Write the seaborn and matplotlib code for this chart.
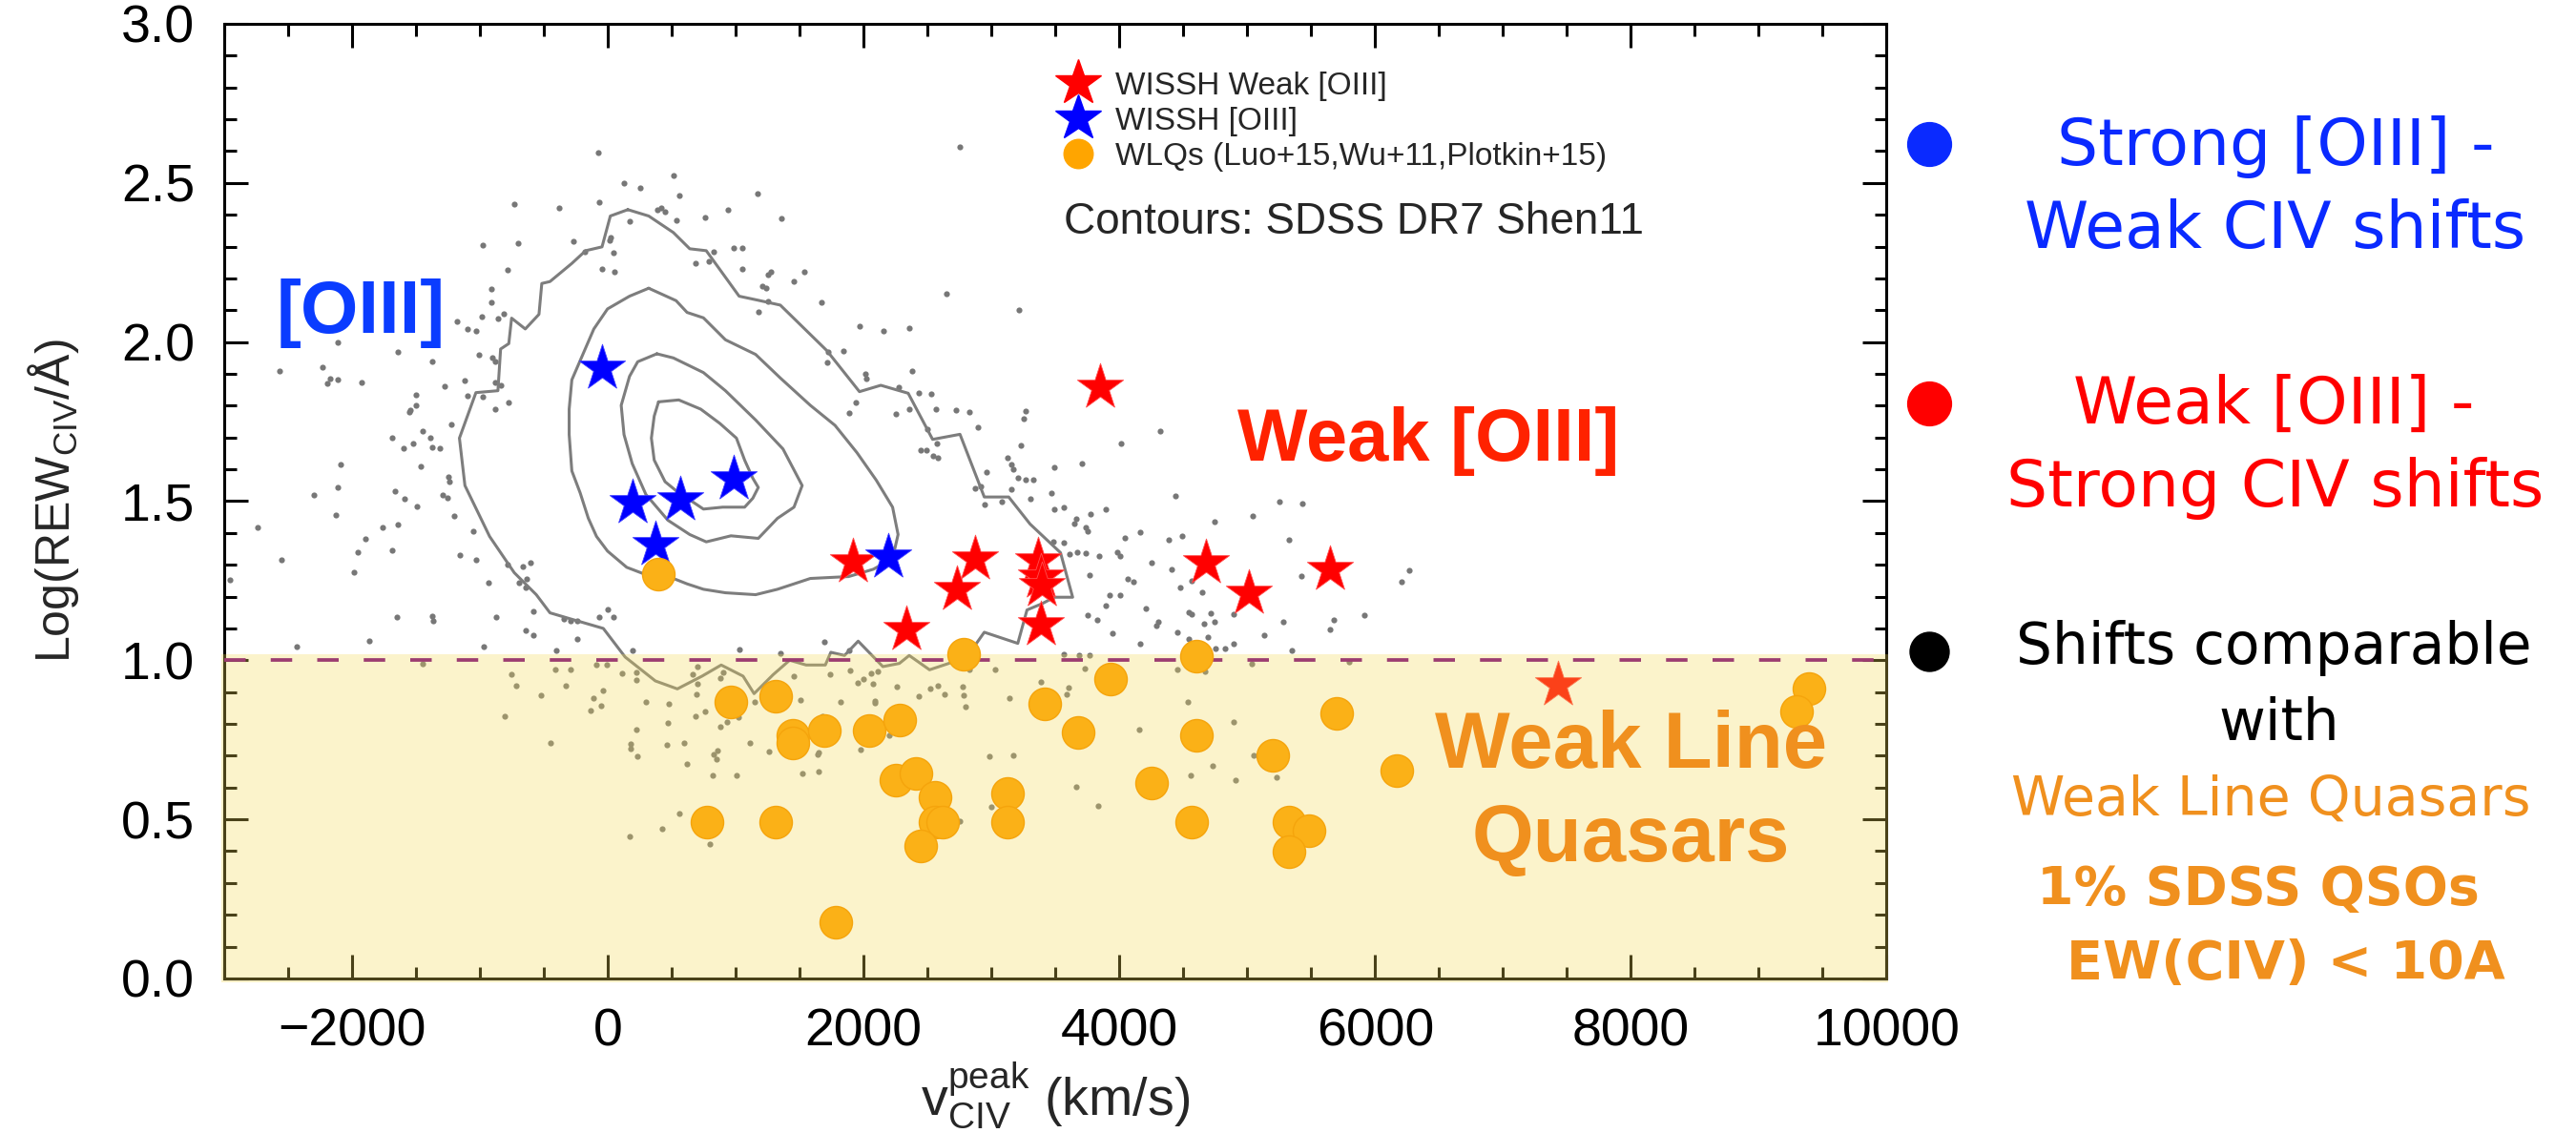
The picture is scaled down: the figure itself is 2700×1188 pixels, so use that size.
import matplotlib
matplotlib.use("Agg")
import matplotlib.pyplot as plt
from matplotlib.lines import Line2D
from matplotlib.patches import Rectangle
from matplotlib.ticker import MultipleLocator, FormatStrFormatter
import seaborn as sns

# ---------------- data ----------------
# WISSH quasars with weak [OIII]
red_x = [1915, 2873, 2730, 2335, 3364, 3390, 3397, 3383, 3849, 4678, 5016, 5650, 7431]
red_y = [1.309, 1.320, 1.223, 1.098, 1.313, 1.263, 1.235, 1.113, 1.859, 1.306, 1.210, 1.286, 0.923]

# WISSH quasars with [OIII]
blue_x = [-45, 191, 564, 984, 376, 2193]
blue_y = [1.919, 1.494, 1.503, 1.570, 1.363, 1.324]

# Weak line quasars (Luo+15, Wu+11, Plotkin+15)
wlq_x = [397, 962, 1312, 1444, 1444, 1692, 2043, 2286, 2786, 3420, 3680, 2256, 2410,
         2556, 2560, 2615, 2449, 3128, 3128, 774, 1312, 1782,
         4600, 3932, 4600, 4253, 4569, 5201, 5702, 5323, 5481, 5323, 6167, 9395, 9296]
wlq_y = [1.271, 0.870, 0.887, 0.765, 0.740, 0.778, 0.778, 0.812, 1.018, 0.863, 0.772, 0.624, 0.643,
         0.570, 0.492, 0.490, 0.415, 0.580, 0.492, 0.492, 0.492, 0.176,
         1.013, 0.940, 0.764, 0.613, 0.492, 0.700, 0.833, 0.492, 0.463, 0.398, 0.654, 0.910, 0.840]

# SDSS DR7 (Shen+11) density contours, outermost to innermost
c1_x = [157, 320, 513, 641, 770, 1027, 1156, 1349, 1713, 1968, 2135, 2349, 2540, 2754, 2944, 3135,
        3302, 3540, 3635, 3492, 3397, 3278, 3206, 2944, 2816, 2666, 2516, 2357, 2280, 2151, 1958,
        1851, 1744, 1701, 1551, 1422, 1294, 1144, 1058, 887, 737, 544, 372, 136, -35, -292, -452,
        -559, -731, -924, -1117, -1160, -1031, -859, -838, -774, -752, -645, -538, -516, -452, -281,
        -173, -45, 20]
c1_y = [2.416, 2.396, 2.344, 2.293, 2.287, 2.144, 2.133, 2.116, 1.973, 1.844, 1.864, 1.839, 1.694,
        1.710, 1.513, 1.513, 1.428, 1.338, 1.198, 1.198, 1.178, 1.158, 1.053, 1.088, 1.015, 0.990,
        0.970, 1.015, 0.990, 0.980, 1.060, 1.015, 1.025, 0.985, 0.985, 1.000, 0.955, 0.895, 0.950,
        0.985, 0.950, 0.910, 0.935, 1.010, 1.100, 1.130, 1.149, 1.206, 1.275, 1.389, 1.549, 1.698,
        1.841, 1.847, 1.978, 1.995, 2.075, 2.041, 2.087, 2.184, 2.190, 2.247, 2.287, 2.299, 2.396]

c2_x = [320, 534, 620, 748, 920, 1156, 1349, 1584, 1777, 1949, 2099, 2227, 2270, 2227, 2077, 1884,
        1584, 1456, 1327, 1156, 920, 748, 620, 513, 298, 148, -2, -88, -152, -216, -281, -302, -302,
        -281, -195, -109, -2, 170]
c2_y = [2.169, 2.130, 2.093, 2.076, 2.007, 1.961, 1.887, 1.801, 1.738, 1.652, 1.566, 1.481, 1.395,
        1.320, 1.286, 1.263, 1.257, 1.240, 1.223, 1.206, 1.212, 1.223, 1.240, 1.257, 1.269, 1.292,
        1.343, 1.389, 1.446, 1.526, 1.595, 1.709, 1.789, 1.881, 1.961, 2.041, 2.104, 2.144]

c3_x = [384, 513, 748, 920, 1156, 1370, 1520, 1456, 1327, 1177, 963, 770, 641, 470, 298, 191, 127,
        105, 170, 234]
c3_y = [1.963, 1.950, 1.904, 1.847, 1.755, 1.664, 1.549, 1.481, 1.446, 1.383, 1.391, 1.372, 1.395,
        1.440, 1.521, 1.618, 1.709, 1.801, 1.892, 1.938]

c4_x = [397, 555, 727, 877, 1006, 1070, 1134, 1177, 1134, 1070, 898, 748, 663, 555, 448, 363, 341, 363]
c4_y = [1.812, 1.818, 1.789, 1.744, 1.698, 1.629, 1.572, 1.543, 1.509, 1.481, 1.481, 1.475, 1.498,
        1.526, 1.561, 1.629, 1.698, 1.767]

# SDSS DR7 objects outside the contours
sdss_x = [-75, 2755, 513, 127, 255, 556, 1168, -66, -731, -379, 390, 420, 450, 941, 534, 761, 1357,
          170, -268, -182, 15, 25, -701, -975, 41, 984, 1048, 826, 684, 791, -786, -45, 53, 1276,
          1250, 1533, 1048, 1456, 1211, 1241, -911, 2647, 1254, 1670, -911, 3213, -988, -859, -816,
          1177, -1181, -1095, -1031, 1970, 2155, 2356, -1009, -902, -881, -2111, 1726, 1841, 1713,
          -1374, -1640, -2566, -2231, -2170, -2110, -2190, -1922, -1117, -881, -838, -1275, -1502,
          -1095, -975, -1502, -881, -774, 1940, -1554, -1545, 1884, -1224, -1447, -1387, -1687,
          -1310, -1374, -1597, -1524, -2090, -1459, -1245, -1237, -2111, -2295, -1665, -1288, -1254,
          -1588, -1494, -1202, -2124, -2737, -1760, -1644, -1897, -1052, -1952, -1687, -1160, -1031,
          -2548, -786, -666, -602, -1982, -932, -696, -645, -632, -2951, -581, -345, -289, -238, -66,
          -2, 41, -1652, -1374, -1365, -645, -581, -872, -2433, -1867, -967, -401, -238, 1349, 1691,
          1884, 191, 1027,
          # below the dashed line, left part
          -1450, -408, -292, -87, -5, -755, -713, -327, -524, -807, -451, 111, 226, 226, -35, -112,
          -56, -138, 295, 480, 471, 222, 180, 180, 231, 462, 600, 616, 171, 428, 557, 801, 822, 1006,
          830, 848, 855, 1114, 1260, 760, 686, 900, 693, 700, 660, 700, 880, 900, 1020, 935, 880,
          1150, 1223, 1457, 1520, 1645, 1640, 1645, 1508, 1680, 1740, 1821, 1894, 2000, 1955, 2060,
          2085, 2085, 2075, 2110, 1980, 2263, 2203, 2430, 2524, 2580, 2636, 2777, 2785, 2795, 2830,
          3030, 3142, 2987, 3172, 2996, 2751, 3385,
          # below the dashed line, right part
          5038, 5797, 3729, 4451, 4668, 3603, 3585, 4533, 4894, 4158, 5047, 4731, 4555, 5233, 4912,
          3661, 3837,
          # above the dashed line, right part
          2382, 2016, 2020, 2435, 2530, 2278, 2720, 2825, 3264, 3254, 2254, 2358, 4316, 2563, 2897,
          2501, 2573, 2444, 2492, 2540, 2578, 4016, 3230, 3125, 3159, 3168, 3492, 3706, 2959, 3206,
          3264, 3325, 2873, 2920, 3159, 3468, 3302, 2944, 3078, 4435, 5254, 5431, 3492, 3564, 3897,
          3778, 5040, 3660, 3650, 3740, 3755, 4745, 4040, 4159, 4492, 4388, 3483, 3568, 5326, 3611,
          3673, 3740, 3840, 3987, 4007, 4254, 4411, 6264, 5421, 3768, 6207, 4064, 4111, 3921, 4007,
          4478, 4564, 4645, 3897, 4207, 4540, 4564, 4716, 4897, 3754, 3826, 4302, 4292, 4659, 4745,
          4454, 5278, 5674, 5650, 5912, 3945, 5135, 4692, 4159, 4540, 4755, 4830, 4897, 5350, 3564,
          3683, 3768]
sdss_y = [2.596, 2.613, 2.524, 2.499, 2.483, 2.459, 2.467, 2.439, 2.433, 2.421, 2.415, 2.420, 2.410,
          2.415, 2.382, 2.390, 2.388, 2.380, 2.316, 2.285, 2.320, 2.330, 2.310, 2.304, 2.280, 2.296,
          2.296, 2.285, 2.247, 2.253, 2.227, 2.230, 2.220, 2.220, 2.212, 2.222, 2.230, 2.190, 2.175,
          2.170, 2.167, 2.152, 2.127, 2.124, 2.124, 2.100, 2.080, 2.075, 2.090, 2.096, 2.064, 2.040,
          2.035, 2.050, 2.035, 2.045, 1.960, 1.950, 1.940, 2.000, 1.970, 1.972, 1.935, 1.940, 1.970,
          1.908, 1.920, 1.885, 1.883, 1.870, 1.873, 1.880, 1.872, 1.864, 1.860, 1.835, 1.830, 1.828,
          1.800, 1.790, 1.810, 1.810, 1.780, 1.785, 1.776, 1.741, 1.720, 1.700, 1.698, 1.666, 1.668,
          1.665, 1.680, 1.614, 1.610, 1.575, 1.560, 1.543, 1.520, 1.530, 1.520, 1.510, 1.506, 1.484,
          1.452, 1.455, 1.418, 1.418, 1.425, 1.380, 1.406, 1.340, 1.347, 1.330, 1.316, 1.315, 1.300,
          1.295, 1.307, 1.277, 1.243, 1.243, 1.230, 1.256, 1.254, 1.154, 1.130, 1.125, 1.123, 1.137,
          1.160, 1.135, 1.137, 1.140, 1.124, 1.095, 1.080, 1.135, 1.042, 1.060, 1.042, 1.030, 1.066,
          1.023, 1.057, 1.030, 1.030, 1.035,
          0.990, 0.972, 0.972, 0.987, 0.987, 0.957, 0.920, 0.920, 0.889, 0.825, 0.740, 0.960, 0.962,
          0.938, 0.905, 0.880, 0.858, 0.842, 0.868, 0.862, 0.802, 0.782, 0.738, 0.723, 0.699, 0.734,
          0.740, 0.673, 0.447, 0.470, 0.518, 0.423, 0.639, 0.638, 0.705, 0.690, 0.717, 0.740, 0.713,
          0.838, 0.825, 0.840, 0.892, 0.925, 0.955, 0.980, 0.945, 0.962, 0.820, 0.805, 0.792, 0.868,
          0.868, 0.950, 0.643, 0.650, 0.705, 0.710, 0.875, 0.825, 0.955, 0.868, 0.968, 0.940, 0.930,
          0.960, 0.872, 0.865, 0.925, 0.965, 0.720, 0.917, 0.765, 0.887, 0.910, 0.920, 0.892, 0.917,
          0.890, 0.855, 0.970, 0.970, 0.882, 0.698, 0.702, 0.540, 0.493, 0.932,
          0.990, 0.995, 0.975, 0.970, 0.965, 0.915, 0.892, 0.868, 0.805, 0.783, 0.700, 0.668, 0.638,
          0.632, 0.622, 0.603, 0.543,
          1.910, 1.900, 1.885, 1.840, 1.836, 1.857, 1.785, 1.779, 1.783, 1.758, 1.775, 1.788, 1.720,
          1.790, 1.733, 1.725, 1.680, 1.660, 1.660, 1.643, 1.636, 1.682, 1.674, 1.636, 1.614, 1.600,
          1.607, 1.617, 1.592, 1.574, 1.567, 1.567, 1.539, 1.546, 1.537, 1.524, 1.506, 1.490, 1.498,
          1.515, 1.499, 1.491, 1.475, 1.480, 1.473, 1.458, 1.454, 1.444, 1.429, 1.417, 1.404, 1.434,
          1.384, 1.401, 1.391, 1.378, 1.371, 1.368, 1.378, 1.334, 1.339, 1.337, 1.329, 1.339, 1.329,
          1.306, 1.286, 1.283, 1.266, 1.268, 1.248, 1.257, 1.246, 1.206, 1.206, 1.229, 1.249, 1.214,
          1.171, 1.162, 1.151, 1.145, 1.148, 1.145, 1.141, 1.128, 1.120, 1.108, 1.116, 1.121, 1.088,
          1.121, 1.128, 1.098, 1.141, 1.086, 1.078, 1.073, 1.053, 1.066, 1.038, 1.038, 1.053, 1.030,
          1.018, 1.016, 1.016]

ew_limit = 1.0
x_ticks_major = [-2000, 0, 2000, 4000, 6000, 8000, 10000]

# ---------------- style ----------------
sns.set_theme(style="white")
plt.rcParams['font.family'] = ['Liberation Sans', 'DejaVu Sans']
plt.rcParams['mathtext.fontset'] = 'custom'
plt.rcParams['mathtext.rm'] = 'Liberation Sans'
plt.rcParams['mathtext.it'] = 'Liberation Sans:italic'
plt.rcParams['mathtext.bf'] = 'Liberation Sans:bold'

fig = plt.figure(figsize=(27, 11.88), dpi=100)
ax = fig.add_axes([0.0870, 0.1364, 0.6454, 0.8426])
ax.set_facecolor('white')

# scattered SDSS objects
sns.scatterplot(x=sdss_x, y=sdss_y, color='#777777', s=20, linewidth=0, ax=ax, zorder=1)

# density contours
for cx, cy in [(c1_x, c1_y), (c2_x, c2_y), (c3_x, c3_y), (c4_x, c4_y)]:
    ax.plot(list(cx) + [cx[0]], list(cy) + [cy[0]], color='#7d7d7d', lw=2.2, zorder=1.5)

# weak-[OIII] WISSH sources
sns.scatterplot(x=red_x, y=red_y, marker='*', s=1340, color='#ff0000', edgecolor='#ff5050',
                linewidth=0.6, ax=ax, zorder=2)

# weak-line region shading (semi-transparent, above frame)
ax.add_patch(Rectangle((-3025, -0.012), 13040, 1.032, transform=ax.transData,
                       facecolor=(242 / 255, 216 / 255, 85 / 255), alpha=0.306,
                       edgecolor='none', zorder=2.6, clip_on=False))
ax.axhline(ew_limit, color='#9c3c70', lw=2.7, dashes=(6, 7), zorder=2.7)

# [OIII] WISSH sources
sns.scatterplot(x=blue_x, y=blue_y, marker='*', s=1340, color='#0000ff', edgecolor='#4040ff',
                linewidth=0.6, ax=ax, zorder=3)

# weak line quasars
sns.scatterplot(x=wlq_x, y=wlq_y, marker='o', s=600, color='#fbb117', edgecolor='#f5a40c',
                linewidth=1.0, ax=ax, zorder=3)

# axes
ax.set_xlim(-3000, 10000)
ax.set_ylim(0, 3.0)
ax.set_xticks(x_ticks_major)
ax.xaxis.set_minor_locator(MultipleLocator(500))
ax.yaxis.set_major_locator(MultipleLocator(0.5))
ax.yaxis.set_minor_locator(MultipleLocator(0.1))
ax.yaxis.set_major_formatter(FormatStrFormatter('%.1f'))
ax.tick_params(which='both', direction='in', top=True, right=True, bottom=True, left=True,
               width=2.2, color='black', labelsize=40, labelcolor='black')
ax.tick_params(which='major', length=18, pad=22)
ax.tick_params(which='minor', length=9)
for sp in ax.spines.values():
    sp.set_color('black')
    sp.set_linewidth(2.2)
    sp.set_visible(True)

ax.set_xlabel(r'$\mathrm{v}_{\mathrm{CIV}}^{\mathrm{peak}}$ (km/s)', fontsize=40, labelpad=2)
ax.set_ylabel(r'Log(REW$_{\mathrm{CIV}}$/Å)', fontsize=36, labelpad=30)

# in-plot labels
ax.text(-1930, 2.029, '[OIII]', color='#0a3cff', fontsize=56, fontweight='bold',
        ha='center', va='baseline', zorder=4)
ax.text(6420, 1.627, 'Weak [OIII]', color='#ff2200', fontsize=56, fontweight='bold',
        ha='center', va='baseline', zorder=4)
ax.text(8000, 0.662, 'Weak Line', color='#f0901e', fontsize=60, fontweight='bold',
        ha='center', va='baseline', zorder=4)
ax.text(8000, 0.369, 'Quasars', color='#f0901e', fontsize=60, fontweight='bold',
        ha='center', va='baseline', zorder=4)

# legend
handles = [
    Line2D([], [], ls='none', marker='*', markersize=36, color='#ff0000', label='WISSH Weak [OIII]'),
    Line2D([], [], ls='none', marker='*', markersize=36, color='#0000ff', label='WISSH [OIII]'),
    Line2D([], [], ls='none', marker='o', markersize=22, color='#ffa500', label='WLQs (Luo+15,Wu+11,Plotkin+15)'),
]
leg = ax.legend(handles=handles, loc='upper left', bbox_to_anchor=(0.5005, 0.950), frameon=False,
                fontsize=24, handlelength=1.4, handletextpad=0.45, labelspacing=0.18,
                borderpad=0, borderaxespad=0)
leg.set_zorder(5)
ax.text(0.505, 0.780, 'Contours: SDSS DR7 Shen11', transform=ax.transAxes, fontsize=33,
        ha='left', va='baseline', zorder=5)

# side notes
side = dict(family=['DejaVu Sans'], ha='center', va='center')
fig.text(0.8833, 0.8700, 'Strong [OIII] -', color='#0a2aff', fontsize=49, **side)
fig.text(0.8833, 0.7970, 'Weak CIV shifts', color='#0a2aff', fontsize=49, **side)
fig.text(0.8826, 0.6420, 'Weak [OIII] -', color='#ff0000', fontsize=49, **side)
fig.text(0.8833, 0.5690, 'Strong CIV shifts', color='#ff0000', fontsize=49, **side)
fig.text(0.8826, 0.4280, 'Shifts comparable', color='black', fontsize=43, **side)
fig.text(0.8848, 0.3610, 'with', color='black', fontsize=43, **side)
fig.text(0.8815, 0.2940, 'Weak Line Quasars', color='#f0901e', fontsize=41, **side)
fig.text(0.8767, 0.2150, '1% SDSS QSOs', color='#f0901e', fontsize=40, fontweight='bold', **side)
fig.text(0.8874, 0.1490, 'EW(CIV) < 10A', color='#f0901e', fontsize=40, fontweight='bold', **side)

for yb, col, ms in [(0.8729, '#0a2aff', 33), (0.6439, '#ff0000', 33), (0.4251, 'black', 29.5)]:
    fig.add_artist(Line2D([0.7489], [yb], transform=fig.transFigure, ls='none', marker='o',
                          markersize=ms, color=col))

fig.savefig('out.png', dpi=100)
